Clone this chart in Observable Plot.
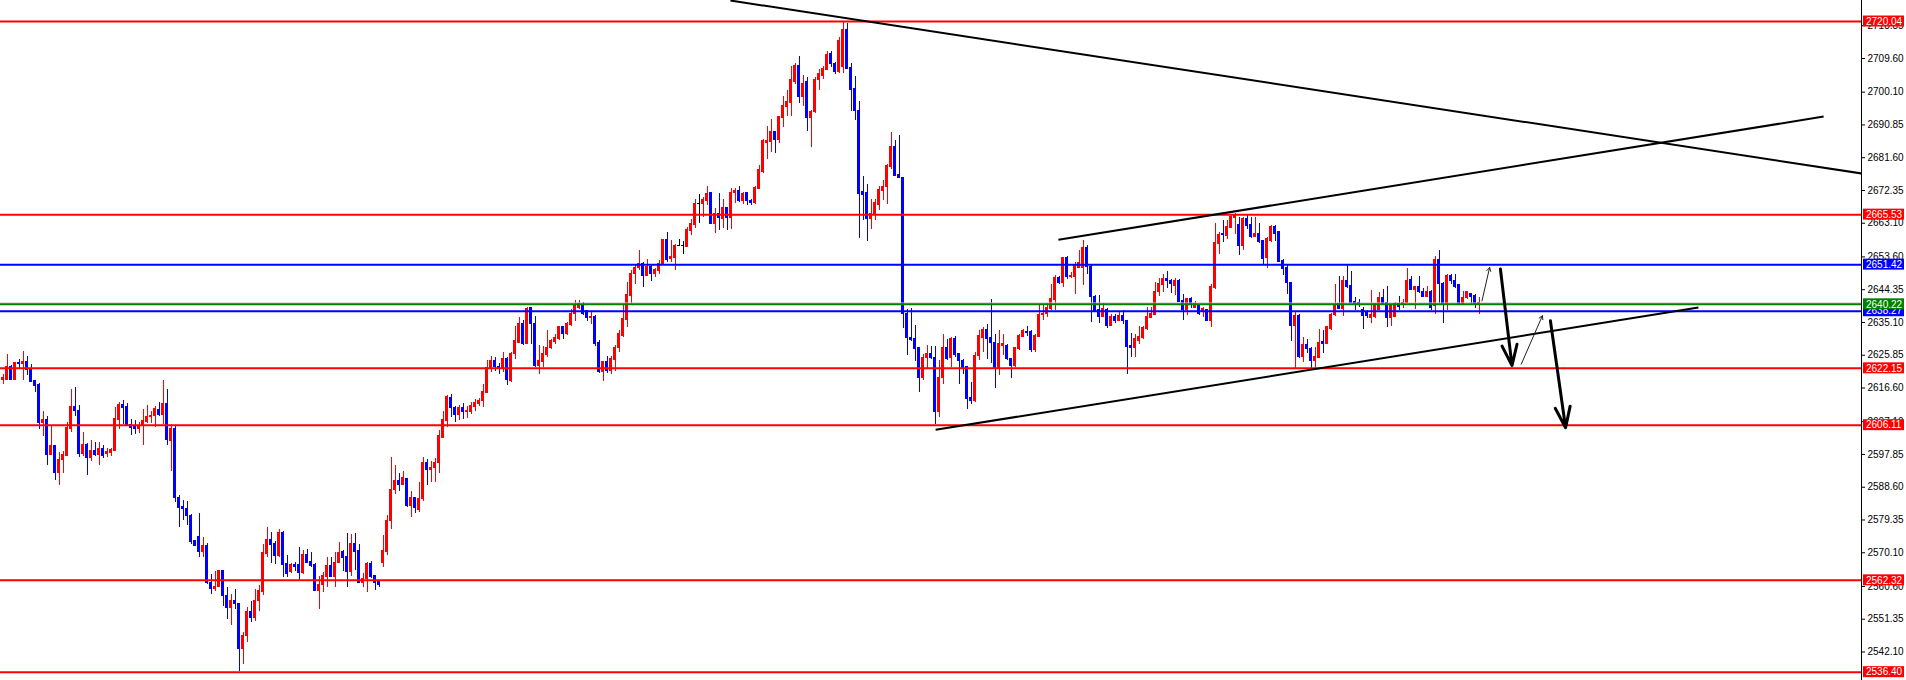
<!DOCTYPE html>
<html><head><meta charset="utf-8">
<script src="https://cdn.jsdelivr.net/npm/d3@7"></script>
<script src="https://cdn.jsdelivr.net/npm/@observablehq/plot@0.6"></script>
<style>html,body{margin:0;padding:0;background:#fff;overflow:hidden}</style>
</head><body><div id="chart"></div>
<script>
// ---- candle data (index = bar number, left to right) ----
const open = [
2619.0,2619.0,2622.6,2618.8,2623.7,2623.5,2623.9,2622.0,2618.6,2617.5,
2606.6,2607.5,2597.7,2600.2,2592.7,2596.2,2597.4,2605.0,2611.3,2610.1,
2598.1,2600.5,2596.8,2598.8,2597.7,2599.4,2598.1,2598.3,2598.8,2607.6,
2611.8,2611.3,2606.1,2605.6,2604.9,2605.8,2607.1,2608.3,2608.7,2610.4,
2609.0,2612.0,2601.7,2605.0,2585.6,2583.0,2582.4,2580.5,2573.4,2574.5,
2570.4,2572.1,2561.6,2560.0,2560.4,2564.9,2558.0,2554.6,2556.6,2555.5,
2542.8,2546.6,2553.3,2551.8,2556.4,2559.1,2569.8,2573.6,2572.6,2569.2,
2575.8,2566.8,2564.7,2566.6,2566.6,2564.4,2569.6,2567.5,2566.6,2559.3,
2561.0,2563.2,2566.3,2563.2,2567.3,2570.4,2568.9,2564.7,2572.5,2570.6,
2561.6,2562.6,2567.0,2563.5,2561.8,2567.3,2570.4,2579.2,2587.7,2590.4,
2589.2,2590.8,2583.3,2585.5,2582.3,2585.2,2595.5,2593.4,2593.9,2595.5,
2602.6,2607.3,2613.9,2611.1,2609.0,2610.9,2609.7,2609.9,2611.3,2612.2,
2612.8,2615.3,2622.2,2624.3,2622.5,2621.9,2624.7,2618.6,2626.1,2629.4,
2634.8,2628.9,2639.1,2634.8,2622.8,2624.0,2625.9,2627.8,2629.7,2630.4,
2633.7,2631.8,2634.4,2637.6,2639.3,2640.1,2638.2,2636.3,2636.7,2629.4,
2621.2,2624.0,2621.4,2624.4,2627.8,2631.3,2635.7,2642.6,2648.7,2650.4,
2651.7,2648.3,2650.8,2648.7,2649.7,2651.6,2658.3,2653.0,2653.4,2656.7,
2656.7,2656.4,2661.0,2662.7,2668.5,2668.4,2669.5,2671.5,2663.0,2665.7,
2664.3,2667.4,2664.6,2671.6,2672.3,2669.3,2671.6,2669.3,2668.7,2672.8,
2677.5,2685.7,2686.0,2688.8,2686.6,2692.8,2696.0,2697.0,2702.9,2707.6,
2698.7,2702.9,2692.8,2694.4,2703.4,2704.8,2706.4,2710.9,2708.1,2705.7,
2707.1,2717.7,2707.0,2701.0,2694.9,2671.8,2671.6,2664.3,2665.7,2668.3,
2672.3,2673.2,2679.1,2684.7,2676.8,2675.9,2637.6,2630.7,2630.4,2627.8,
2619.4,2625.0,2626.1,2625.0,2609.9,2619.4,2628.0,2625.0,2630.4,2626.3,
2624.3,2622.4,2613.9,2613.0,2625.7,2630.8,2632.9,2630.7,2629.4,2622.2,
2628.5,2628.5,2624.7,2622.8,2627.5,2631.0,2632.5,2632.3,2627.3,2631.0,
2637.2,2637.4,2638.9,2641.4,2647.6,2646.1,2653.3,2648.0,2648.0,2650.6,
2650.6,2656.1,2650.8,2642.3,2638.6,2636.7,2638.6,2634.1,2636.7,2635.6,
2637.0,2635.4,2628.5,2627.8,2629.9,2630.8,2633.2,2636.5,2637.2,2643.6,
2645.7,2647.3,2646.8,2645.4,2646.8,2641.2,2638.6,2641.7,2639.3,2639.8,
2638.4,2638.6,2635.6,2644.8,2657.2,2660.2,2659.6,2661.9,2664.6,2662.7,
2656.7,2664.3,2662.7,2659.3,2660.0,2658.0,2653.3,2658.2,2662.1,2660.5,
2652.5,2650.4,2646.1,2634.1,2637.0,2625.4,2628.8,2627.5,2624.1,2625.2,
2629.7,2629.0,2633.2,2637.2,2640.3,2638.9,2646.8,2645.4,2641.0,2640.7,
2638.6,2637.9,2636.3,2636.7,2638.6,2642.1,2640.7,2636.3,2636.7,2640.3,
2640.1,2640.7,2647.0,2644.2,2645.0,2643.6,2642.3,2643.6,2639.8,2652.7,
2645.9,2640.3,2648.3,2646.8,2645.7,2640.4,2642.0,2643.1,2642.6,2640.4];
const high = [
2620.5,2626.0,2622.9,2623.7,2624.7,2626.8,2625.4,2623.3,2618.8,2617.9,
2610.0,2608.7,2605.9,2600.5,2598.4,2598.8,2606.8,2616.1,2616.7,2611.6,
2604.0,2600.9,2601.7,2601.2,2601.1,2600.5,2599.4,2599.6,2611.1,2612.5,
2613.0,2612.2,2607.6,2607.3,2606.8,2610.4,2611.6,2610.1,2611.3,2612.5,
2618.6,2616.1,2606.4,2605.6,2586.4,2584.9,2584.7,2580.9,2573.6,2581.1,
2574.3,2572.7,2564.0,2564.7,2565.1,2564.9,2560.2,2558.3,2559.7,2555.5,
2547.7,2554.7,2556.4,2559.7,2561.0,2572.5,2577.2,2575.8,2573.4,2576.7,
2576.2,2569.2,2567.0,2567.3,2571.5,2570.8,2571.0,2570.1,2567.0,2563.5,
2564.4,2568.7,2568.7,2570.1,2572.9,2570.6,2575.5,2575.3,2575.5,2572.5,
2564.2,2567.3,2567.7,2563.5,2562.1,2575.1,2580.7,2596.9,2594.6,2592.4,
2593.0,2591.1,2587.3,2585.8,2589.9,2597.1,2596.5,2596.0,2596.8,2604.7,
2610.1,2614.4,2614.8,2611.3,2611.8,2612.2,2611.3,2612.5,2613.4,2613.7,
2617.7,2624.3,2625.4,2625.2,2623.5,2626.5,2625.2,2626.6,2634.1,2636.5,
2635.7,2639.3,2639.3,2636.7,2628.5,2628.2,2632.9,2630.4,2631.8,2634.1,
2634.1,2635.1,2638.8,2641.2,2641.4,2640.7,2638.6,2637.9,2637.0,2629.9,
2624.2,2625.4,2625.6,2628.5,2632.7,2640.3,2646.4,2649.7,2651.4,2655.3,
2652.0,2653.0,2651.4,2650.4,2652.5,2658.6,2660.5,2658.2,2657.2,2658.6,
2658.0,2661.9,2664.3,2669.9,2671.3,2670.4,2673.4,2671.8,2667.4,2671.6,
2669.9,2667.6,2673.0,2673.0,2673.4,2671.8,2671.8,2669.9,2673.4,2679.4,
2686.6,2690.4,2692.5,2689.1,2693.2,2698.8,2700.7,2707.3,2708.3,2710.1,
2704.8,2704.1,2694.9,2704.1,2706.4,2707.3,2711.7,2711.7,2708.5,2715.4,
2720.0,2719.5,2708.3,2704.5,2697.5,2676.2,2674.0,2669.9,2669.9,2673.4,
2675.1,2679.6,2688.8,2686.4,2687.8,2676.0,2638.9,2639.1,2634.2,2628.0,
2626.0,2628.5,2628.2,2628.2,2624.3,2631.8,2630.4,2630.8,2631.0,2626.3,
2624.7,2622.5,2618.1,2626.6,2632.9,2633.7,2634.4,2641.7,2631.6,2632.7,
2631.6,2628.8,2625.0,2628.0,2631.6,2633.2,2633.9,2632.9,2631.8,2639.8,
2639.8,2640.4,2645.9,2648.3,2648.0,2653.4,2653.6,2649.2,2652.0,2655.3,
2658.2,2656.7,2651.1,2642.6,2642.6,2640.4,2639.1,2637.3,2637.3,2637.9,
2638.4,2635.6,2632.0,2631.6,2633.9,2633.9,2639.3,2639.3,2646.4,2647.6,
2648.7,2649.5,2647.3,2647.6,2647.3,2642.9,2642.0,2642.2,2641.0,2640.3,
2639.3,2638.9,2645.9,2662.9,2660.5,2664.0,2663.8,2665.7,2665.9,2664.8,
2664.8,2665.2,2664.8,2664.8,2662.9,2658.2,2659.1,2662.4,2662.4,2660.8,
2653.0,2651.1,2646.4,2637.9,2637.4,2630.8,2630.4,2628.0,2628.0,2633.2,
2632.7,2633.9,2637.6,2645.9,2648.0,2648.0,2651.4,2649.5,2642.1,2641.7,
2639.3,2638.6,2644.0,2640.4,2643.6,2644.5,2645.2,2640.3,2640.7,2642.3,
2641.7,2650.2,2648.0,2645.2,2648.0,2644.8,2645.2,2644.0,2653.6,2655.5,
2646.4,2648.5,2648.7,2648.7,2645.9,2643.8,2643.8,2643.3,2642.9,2642.1];
const low = [
2617.7,2619.0,2618.6,2618.6,2621.9,2618.6,2620.0,2618.4,2615.3,2605.0,
2602.8,2594.6,2597.7,2590.4,2589.0,2592.4,2597.4,2604.0,2608.7,2596.9,
2597.4,2591.8,2596.0,2597.4,2594.6,2596.8,2596.9,2597.4,2598.8,2605.0,
2606.2,2605.9,2603.1,2603.5,2603.7,2600.5,2606.6,2606.6,2605.4,2608.7,
2606.4,2600.5,2592.9,2584.2,2577.2,2579.1,2577.9,2572.3,2572.1,2568.7,
2568.9,2561.2,2558.3,2559.3,2560.2,2554.8,2551.3,2549.7,2554.1,2536.5,
2538.6,2544.7,2550.5,2550.8,2553.5,2557.9,2568.7,2567.0,2566.8,2568.7,
2563.2,2563.2,2564.2,2564.9,2562.3,2564.0,2567.0,2566.0,2559.1,2554.1,
2558.8,2560.2,2563.0,2560.2,2567.0,2564.9,2560.4,2563.5,2565.1,2561.3,
2560.2,2558.8,2562.8,2559.5,2560.4,2565.9,2569.2,2576.7,2586.6,2587.3,
2589.0,2583.0,2580.0,2581.1,2581.4,2584.7,2589.2,2589.9,2589.9,2592.4,
2602.4,2605.4,2608.3,2606.8,2607.5,2607.8,2608.1,2609.2,2609.9,2611.5,
2611.1,2615.3,2621.0,2621.3,2620.5,2621.0,2617.2,2618.1,2624.7,2629.1,
2628.5,2628.8,2628.8,2622.4,2620.5,2622.4,2625.2,2627.5,2628.8,2629.9,
2630.4,2631.3,2634.1,2635.4,2638.8,2637.2,2635.5,2634.6,2628.2,2620.7,
2618.4,2620.7,2620.5,2621.4,2626.6,2630.8,2633.7,2640.3,2645.9,2649.7,
2645.0,2648.0,2646.8,2647.8,2648.7,2651.4,2652.0,2652.0,2649.9,2656.4,
2654.4,2656.3,2659.6,2661.7,2663.0,2664.7,2668.0,2662.7,2660.2,2661.0,
2661.7,2661.0,2661.2,2668.6,2669.0,2668.3,2668.1,2668.1,2668.3,2672.5,
2677.2,2681.0,2683.1,2682.8,2685.7,2690.2,2693.2,2693.2,2702.4,2697.0,
2696.0,2689.0,2684.4,2694.1,2700.7,2703.6,2706.2,2707.0,2705.1,2705.4,
2705.4,2706.7,2694.7,2692.1,2658.9,2663.8,2658.0,2661.2,2663.8,2666.6,
2669.5,2668.3,2678.4,2676.2,2675.6,2633.5,2625.7,2629.7,2624.1,2615.3,
2618.8,2622.2,2624.7,2606.4,2608.2,2617.5,2624.4,2622.5,2625.2,2617.5,
2620.5,2610.6,2612.0,2612.5,2624.4,2626.6,2624.7,2623.5,2616.5,2620.0,
2625.7,2624.4,2619.4,2622.4,2627.1,2630.8,2631.0,2626.6,2626.6,2630.8,
2635.7,2636.5,2638.6,2638.4,2645.9,2645.0,2647.3,2647.6,2642.9,2650.2,
2645.4,2648.7,2635.1,2637.9,2634.8,2636.5,2633.5,2633.9,2634.8,2635.4,
2634.6,2620.3,2625.2,2625.2,2629.0,2630.4,2632.9,2636.3,2637.0,2642.3,
2643.6,2644.8,2643.3,2642.6,2640.7,2635.7,2637.0,2639.1,2639.1,2637.0,
2636.5,2635.4,2633.7,2644.5,2654.4,2657.7,2658.6,2661.5,2659.9,2653.9,
2655.3,2661.2,2658.9,2659.1,2657.4,2651.6,2650.4,2657.7,2658.0,2652.0,
2648.3,2642.9,2629.7,2622.2,2625.0,2623.8,2626.3,2622.2,2621.9,2625.0,
2626.3,2628.8,2632.9,2636.7,2638.9,2636.7,2644.8,2640.4,2638.6,2639.3,
2633.2,2636.3,2634.8,2636.3,2638.6,2640.1,2633.7,2634.1,2636.7,2638.6,
2639.1,2640.4,2644.0,2638.9,2643.3,2642.1,2642.3,2638.4,2637.4,2640.4,
2634.8,2638.4,2645.9,2644.8,2640.3,2640.3,2641.7,2640.3,2639.1,2637.4];
const close = [
2619.4,2622.6,2618.8,2623.7,2623.3,2623.9,2621.6,2618.4,2617.3,2606.6,
2607.5,2597.7,2600.2,2592.7,2596.3,2597.7,2605.2,2611.3,2610.0,2598.1,
2600.5,2596.9,2598.8,2597.6,2599.4,2597.4,2598.6,2599.2,2607.9,2611.8,
2611.1,2606.2,2605.4,2604.9,2605.8,2607.3,2608.4,2608.7,2610.6,2609.0,
2612.0,2601.8,2605.0,2585.5,2582.8,2582.4,2580.5,2573.2,2572.1,2570.4,
2572.0,2561.6,2560.0,2560.4,2564.9,2558.0,2554.6,2556.6,2555.5,2542.8,
2546.6,2553.3,2551.8,2556.6,2559.3,2570.1,2573.6,2572.3,2569.2,2575.8,
2566.6,2564.2,2566.6,2566.0,2564.4,2569.6,2567.3,2566.3,2559.3,2561.0,
2563.5,2566.3,2563.2,2567.3,2570.1,2568.7,2564.7,2572.5,2570.4,2561.6,
2562.6,2567.0,2563.2,2561.6,2561.0,2570.6,2579.2,2587.7,2590.4,2589.2,
2591.1,2583.3,2585.5,2582.8,2585.2,2595.5,2593.6,2593.9,2595.5,2603.1,
2607.5,2614.1,2610.9,2609.0,2610.9,2609.7,2610.1,2611.5,2612.5,2613.0,
2615.6,2622.2,2624.3,2622.4,2621.9,2624.7,2618.8,2626.1,2629.9,2634.8,
2628.9,2638.8,2634.8,2622.8,2624.2,2626.1,2628.0,2629.9,2630.6,2633.7,
2631.8,2634.8,2637.6,2639.8,2640.3,2637.6,2636.3,2636.7,2629.1,2621.2,
2624.0,2621.4,2624.7,2628.0,2631.8,2636.0,2642.9,2648.9,2650.6,2651.6,
2648.3,2650.8,2648.7,2649.9,2651.7,2658.3,2652.7,2653.6,2656.7,2656.7,
2656.7,2661.2,2662.9,2668.5,2668.5,2669.6,2671.3,2662.9,2665.7,2664.6,
2667.4,2664.6,2671.6,2672.3,2669.3,2671.4,2669.3,2668.7,2673.1,2678.0,
2686.2,2686.2,2688.8,2686.6,2693.0,2696.3,2697.2,2703.4,2707.6,2698.7,
2702.4,2692.8,2694.4,2703.6,2705.1,2706.7,2710.7,2708.1,2705.7,2714.5,
2717.7,2706.7,2700.7,2694.7,2671.4,2671.2,2664.3,2665.7,2668.7,2672.5,
2673.4,2679.4,2684.7,2676.5,2675.9,2637.5,2630.7,2630.1,2627.6,2619.4,
2625.0,2626.1,2625.0,2609.9,2619.4,2627.8,2624.7,2630.4,2625.9,2624.1,
2622.2,2613.4,2613.0,2625.7,2631.3,2632.9,2630.4,2629.4,2622.2,2629.1,
2629.1,2624.7,2622.8,2627.8,2631.3,2632.7,2632.0,2627.3,2631.3,2637.2,
2637.6,2639.1,2641.7,2647.6,2646.1,2653.3,2648.0,2648.3,2651.1,2652.0,
2656.1,2650.8,2642.3,2638.2,2636.7,2638.8,2634.1,2636.7,2635.6,2637.0,
2635.4,2628.2,2627.8,2630.4,2631.0,2633.5,2636.7,2637.4,2643.8,2645.9,
2647.3,2646.7,2645.9,2646.8,2641.0,2638.6,2641.7,2640.3,2640.4,2637.4,
2638.8,2635.6,2645.0,2657.4,2659.9,2659.9,2662.1,2664.9,2665.2,2656.7,
2664.3,2662.4,2659.3,2660.2,2657.7,2653.0,2658.6,2662.1,2660.2,2652.3,
2650.2,2646.1,2634.1,2637.0,2625.4,2628.8,2627.5,2624.1,2625.4,2629.4,
2629.0,2633.7,2637.2,2640.1,2638.9,2646.8,2645.0,2640.7,2640.1,2640.3,
2637.0,2637.0,2637.2,2640.3,2642.1,2640.4,2636.3,2639.8,2640.3,2639.5,
2640.7,2646.7,2644.2,2645.0,2643.6,2642.3,2643.6,2639.3,2652.7,2645.9,
2640.3,2648.3,2646.7,2645.2,2640.4,2642.0,2643.6,2642.3,2640.4,2640.7];

// ---- horizontal price levels ----
const redLevels = [2720.04, 2665.53, 2622.15, 2606.11, 2562.32, 2536.40];
const blueLevels = [2651.42, 2638.27];
const greenLevels = [2640.22];
const bidLevel = [2640.6];

// ---- trend lines (bar index, price) ----
const trendX1 = [181.8, 263.8, 233.1];
const trendY1 = [2725.97, 2658.45, 2604.8];
const trendX2 = [464.6, 455.1, 423.8];
const trendY2 = [2677.15, 2693.2, 2639.3];

// ---- projection arrows (bar index, price) ----
const thinArrowX1 = [369.7, 379.5], thinArrowY1 = [2641.2, 2623.3];
const thinArrowX2 = [371.6, 384.8], thinArrowY2 = [2650.6, 2637.0];
const thickArrowX1 = [374.3, 386.8], thickArrowY1 = [2650.2, 2635.6];
const thickArrowX2 = [377.2, 390.6], thickArrowY2 = [2622.9, 2605.4];

// ---- price axis tick labels ----
const tickValues = [2718.85, 2709.60, 2700.10, 2690.85, 2681.60, 2672.35, 2663.10, 2653.60, 2644.35,
  2635.10, 2625.85, 2616.60, 2607.10, 2597.85, 2588.60, 2579.35, 2570.10, 2560.60, 2551.35, 2542.10];

const candles = open.map((o, i) => ({i, o, h: high[i], l: low[i], c: close[i]}));
const col = d => d.c > d.o ? "#ff0000" : d.c < d.o ? "#0000ff" : "#000000";
const trends = trendX1.map((x, j) => ({x1: x, y1: trendY1[j], x2: trendX2[j], y2: trendY2[j]}));
const thinArrows = thinArrowX1.map((x, j) => ({x1: x, y1: thinArrowY1[j], x2: thinArrowX2[j], y2: thinArrowY2[j]}));
const thickArrows = thickArrowX1.map((x, j) => ({x1: x, y1: thickArrowY1[j], x2: thickArrowX2[j], y2: thickArrowY2[j]}));

const chart = Plot.plot({
  width: 1906, height: 680,
  marginLeft: 0, marginRight: 45, marginTop: 0, marginBottom: 0,
  style: {background: "#ffffff", fontFamily: "Liberation Sans, Arial, sans-serif", fontSize: "10px", color: "#000"},
  x: {domain: [-0.675, 464.575], axis: null},
  y: {domain: [2534.05, 2725.97]},
  marks: [
    Plot.ruleX(candles, {x: "i", y1: "l", y2: "h", stroke: col, strokeWidth: 1, shapeRendering: "crispEdges"}),
    Plot.rect(candles, {x1: d => d.i - 0.375, x2: d => d.i + 0.375,
      y1: d => Math.min(d.o, d.c), y2: d => Math.max(d.o, d.c),
      fill: col, insetTop: -0.5, insetBottom: -0.5, shapeRendering: "crispEdges"}),
    Plot.ruleY(bidLevel, {stroke: "#c0c0c0", strokeWidth: 1}),
    Plot.ruleY(redLevels, {stroke: "#ff0000", strokeWidth: 2}),
    Plot.ruleY(blueLevels, {stroke: "#0000ff", strokeWidth: 2}),
    Plot.ruleY(greenLevels, {stroke: "#008000", strokeWidth: 2}),
    Plot.link(trends, {x1: "x1", y1: "y1", x2: "x2", y2: "y2", stroke: "#000", strokeWidth: 2, clip: true}),
    Plot.arrow(thinArrows, {x1: "x1", y1: "y1", x2: "x2", y2: "y2", stroke: "#222", strokeWidth: 1, headLength: 6}),
    Plot.arrow(thickArrows, {x1: "x1", y1: "y1", x2: "x2", y2: "y2", stroke: "#000", strokeWidth: 3, headLength: 11, headAngle: 40}),
    Plot.axisY(tickValues, {anchor: "right", tickSize: 3, tickPadding: 3, tickFormat: d => d.toFixed(2),
      fontSize: 10, fill: "#000"})
  ]
});
document.getElementById("chart").append(chart);

// right edge line and coloured level labels, positioned with the plot's own scales
const xs = chart.scale("x"), ys = chart.scale("y");
const edge = xs.range[1];
const svg = d3.select(chart);
svg.append("line").attr("x1", edge + 0.5).attr("x2", edge + 0.5).attr("y1", 0).attr("y2", 680)
  .attr("stroke", "#000").attr("stroke-width", 1);
const labels = [
  ...redLevels.map(v => ({v, c: "#ff0000"})),
  ...blueLevels.map(v => ({v, c: "#0000ff"})),
  ...greenLevels.map(v => ({v, c: "#008000"}))
];
const g = svg.append("g").attr("text-anchor", "start");
for (const d of labels) {
  const y = ys.apply(d.v);
  g.append("rect").attr("x", edge + 2).attr("y", y - 5.5).attr("width", 41).attr("height", 11).attr("fill", d.c);
  g.append("text").attr("x", edge + 5).attr("y", y + 3.7).attr("fill", "#fff").attr("text-anchor", "start")
    .attr("font-family", "Liberation Sans, Arial, sans-serif").attr("font-size", 10).text(d.v.toFixed(2));
}
</script>
</body></html>
